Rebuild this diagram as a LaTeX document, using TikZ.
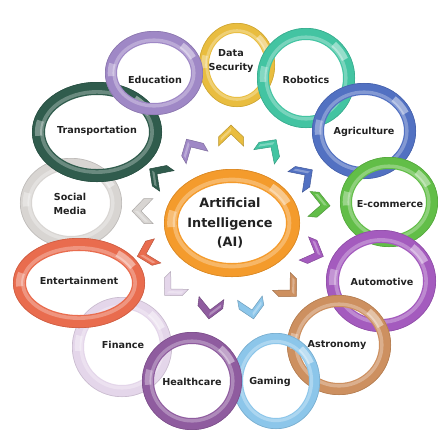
\documentclass[tikz,border=0pt]{standalone}
\usepackage{fontspec}
\setmainfont{DejaVu Sans}
\definecolor{eduC}{HTML}{9F88C6}
\definecolor{dataC}{HTML}{E9BD3F}
\definecolor{robC}{HTML}{43C4A2}
\definecolor{agrC}{HTML}{5271C2}
\definecolor{ecoC}{HTML}{62BE48}
\definecolor{autoC}{HTML}{A45BBE}
\definecolor{astC}{HTML}{CD9060}
\definecolor{gamC}{HTML}{8CC6EA}
\definecolor{heaC}{HTML}{8F5C9F}
\definecolor{finC}{HTML}{E4D6EA}
\definecolor{entC}{HTML}{E96C4E}
\definecolor{socC}{HTML}{D8D5D2}
\definecolor{traC}{HTML}{305C4D}
\definecolor{aiC}{HTML}{F49B2C}
\definecolor{txtC}{HTML}{222222}
\tikzset{
  lbl/.style={font=\fontsize{9.6}{14.5}\selectfont\bfseries, text=txtC, align=center, inner sep=0pt},
  ailbl/.style={font=\fontsize{12.8}{19.5}\selectfont\bfseries, text=txtC, align=center, inner sep=0pt},
}
\newcommand\myring[6]{%
  \draw[#6, line width=#5pt] (#1,#2) ellipse [x radius={#3pt-#5pt/2}, y radius={#4pt-#5pt/2}];
  \draw[#6!72!white, line width={#5pt*0.28}] (#1,#2) ellipse [x radius={#3pt-#5pt*0.76}, y radius={#4pt-#5pt*0.76}];
  \draw[#6!88!black, line width=0.6pt] (#1,#2) ellipse [x radius={#3pt-0.3pt}, y radius={#4pt-0.3pt}];
  \draw[white, opacity=0.45, line width={#5pt*0.55}] ([shift={(25:{#3pt-#5pt/2} and {#4pt-#5pt/2})}]#1,#2)
     arc [start angle=25, end angle=50, x radius={#3pt-#5pt/2}, y radius={#4pt-#5pt/2}];
  \draw[white, opacity=0.35, line width={#5pt*0.55}] ([shift={(165:{#3pt-#5pt/2} and {#4pt-#5pt/2})}]#1,#2)
     arc [start angle=165, end angle=185, x radius={#3pt-#5pt/2}, y radius={#4pt-#5pt/2}];
}
\newcommand\mychev[4]{%
  \begin{scope}[shift={(#1,#2)}, rotate=#3]
  \filldraw[fill=#4, draw=#4!80!black, line width=0.5pt]
   (9pt,0pt) -- (-3pt,12.5pt) -- (-12pt,12.5pt) -- (0pt,0pt) -- (-12pt,-12.5pt) -- (-3pt,-12.5pt) -- cycle;
  \fill[white, opacity=0.3] (6pt,0pt) -- (-4pt,10.5pt) -- (-7pt,10.5pt) -- (3pt,0pt) -- cycle;
  \end{scope}
}
\begin{document}
\begin{tikzpicture}[x=1pt,y=-1pt]
\useasboundingbox (0,0) rectangle (438,429);
\fill[white] (0,0) rectangle (438,429);
% rings (bottom to top)
\myring{122}{347}{50}{50}{12}{finC}
\myring{71}{203}{51}{45}{12}{socC}
\myring{79}{283}{66}{45}{13}{entC}
\myring{97}{132}{65}{50}{13}{traC}
\myring{237}{65}{38}{42}{10}{dataC}
\myring{154}{73}{49}{42}{12}{eduC}
\myring{306}{78}{49}{50}{12}{robC}
\myring{364}{131}{52}{48}{12}{agrC}
\myring{389}{202}{49}{45}{12}{ecoC}
\myring{381}{281}{55}{51}{13}{autoC}
\myring{339}{345}{52}{50}{12}{astC}
\myring{276}{381}{44}{48}{11}{gamC}
\myring{192}{381}{50}{49}{12}{heaC}
\myring{232}{223}{68}{54}{14}{aiC}
% chevrons
\mychev{191}{147}{120}{eduC}
\mychev{231}{134}{90}{dataC}
\mychev{271}{147}{55}{robC}
\mychev{305}{175}{35}{agrC}
\mychev{321}{205}{-5}{ecoC}
\mychev{315}{253}{-22}{autoC}
\mychev{290}{290}{-45}{astC}
\mychev{252}{310}{-80}{gamC}
\mychev{210}{310}{-97}{heaC}
\mychev{171}{289}{-135}{finC}
\mychev{146}{254}{195}{entC}
\mychev{141}{211}{180}{socC}
\mychev{157}{174}{145}{traC}
% labels
\node[lbl] (edu) at (155,80) {Education};
\node[lbl] (data) at (231,61) {Data\\Security};
\node[lbl] (rob) at (306,80) {Robotics};
\node[lbl] (agr) at (364,132) {Agriculture};
\node[lbl] (eco) at (390,204) {E-commerce};
\node[lbl] (auto) at (382,282) {Automotive};
\node[lbl] (ast) at (337,345) {Astronomy};
\node[lbl] (gam) at (270,382) {Gaming};
\node[lbl] (hea) at (192,382) {Healthcare};
\node[lbl] (fin) at (123,345) {Finance};
\node[lbl] (ent) at (79,281) {Entertainment};
\node[lbl] (soc) at (70,204) {Social\\Media};
\node[lbl] (tra) at (97,131) {Transportation};
\node[ailbl] (ai) at (230,223) {Artificial\\Intelligence\\(AI)};
\end{tikzpicture}
\end{document}
